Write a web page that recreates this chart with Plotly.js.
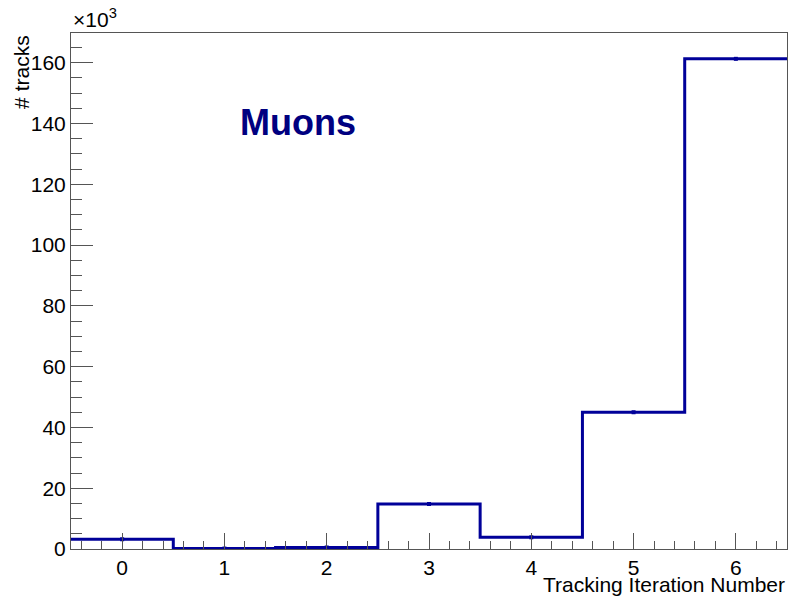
<!DOCTYPE html>
<html>
<head>
<meta charset="utf-8">
<script src="https://cdn.plot.ly/plotly-3.0.1.min.js"></script>
<style>html,body{margin:0;padding:0;background:#fff;}#chart{width:790px;height:599px;}</style>
</head>
<body>
<div id="chart"></div>
<script>
// Data (bin centers and track counts)
const binCenters = [0, 1, 2, 3, 4, 5, 6];
const tracks = [3200, 150, 500, 14800, 3850, 45000, 161300];
const yTickVals = [0, 20000, 40000, 60000, 80000, 100000, 120000, 140000, 160000];
const yTickText = ["0", "20", "40", "60", "80", "100", "120", "140", "160"];
const xTickVals = [0, 1, 2, 3, 4, 5, 6];
const xTickText = ["0", "1", "2", "3", "4", "5", "6"];

// Build step outline from bin edges
const edgesX = [];
const edgesY = [];
binCenters.forEach((c, i) => { edgesX.push(c - 0.5); edgesY.push(tracks[i]); });
edgesX.push(binCenters[binCenters.length - 1] + 0.5);
edgesY.push(tracks[tracks.length - 1]);

const lineColor = 'rgb(0,0,153)';
const fontFam = '"Liberation Sans", Arial, Helvetica, sans-serif';

const traces = [
  {
    x: edgesX, y: edgesY, type: 'scatter', mode: 'lines',
    line: {shape: 'hv', color: lineColor, width: 3},
    hoverinfo: 'skip', showlegend: false
  },
  {
    x: binCenters, y: tracks, type: 'scatter', mode: 'markers',
    marker: {size: 4, symbol: 'square', color: lineColor},
    error_y: {type: 'data', array: tracks.map(v => Math.sqrt(v)), color: lineColor, thickness: 2, width: 0},
    showlegend: false
  }
];

const layout = {
  width: 790, height: 599,
  margin: {l: 71, r: 3, t: 33, b: 50, pad: 0},
  paper_bgcolor: '#fff', plot_bgcolor: '#fff',
  font: {family: fontFam, size: 21, color: '#000'},
  showlegend: false,
  xaxis: {
    range: [-0.5, 6.5], showgrid: false, zeroline: false,
    showline: true, mirror: true, linecolor: '#555', linewidth: 1,
    ticks: 'inside', ticklen: 16, tickcolor: '#555', tickwidth: 1,
    tickvals: xTickVals, ticktext: xTickText,
    tickfont: {family: fontFam, size: 21, color: '#000'},
    minor: {dtick: 0.2, tick0: 0, ticks: 'inside', ticklen: 8, tickcolor: '#555', tickwidth: 1, showgrid: false}
  },
  yaxis: {
    range: [0, 169800], showgrid: false, zeroline: false,
    showline: true, mirror: true, linecolor: '#555', linewidth: 1,
    ticks: 'inside', ticklen: 22, tickcolor: '#555', tickwidth: 1,
    tickvals: yTickVals, ticktext: yTickText,
    tickfont: {family: fontFam, size: 21, color: '#000'},
    minor: {dtick: 5000, tick0: 0, ticks: 'inside', ticklen: 11, tickcolor: '#555', tickwidth: 1, showgrid: false}
  },
  annotations: [
    {text: 'Tracking Iteration Number', xref: 'paper', yref: 'paper', x: 1, y: -0.068,
     xanchor: 'right', yanchor: 'middle', showarrow: false, font: {family: fontFam, size: 21, color: '#000'}},
    {text: '# tracks', xref: 'paper', yref: 'paper', x: -0.07, y: 1, textangle: -90,
     xanchor: 'center', yanchor: 'top', showarrow: false, font: {family: fontFam, size: 21, color: '#000'}},
    {text: '×10<sup>3</sup>', xref: 'paper', yref: 'paper', x: 0, y: 1,
     xanchor: 'left', yanchor: 'bottom', showarrow: false, font: {family: fontFam, size: 21, color: '#000'}},
    {text: '<b>Muons</b>', xref: 'x', yref: 'y', x: 1.13, y: 140500,
     xanchor: 'left', yanchor: 'middle', showarrow: false, font: {family: fontFam, size: 36, color: '#000080'}}
  ]
};

Plotly.newPlot('chart', traces, layout, {displayModeBar: false, staticPlot: true});
</script>
</body>
</html>
